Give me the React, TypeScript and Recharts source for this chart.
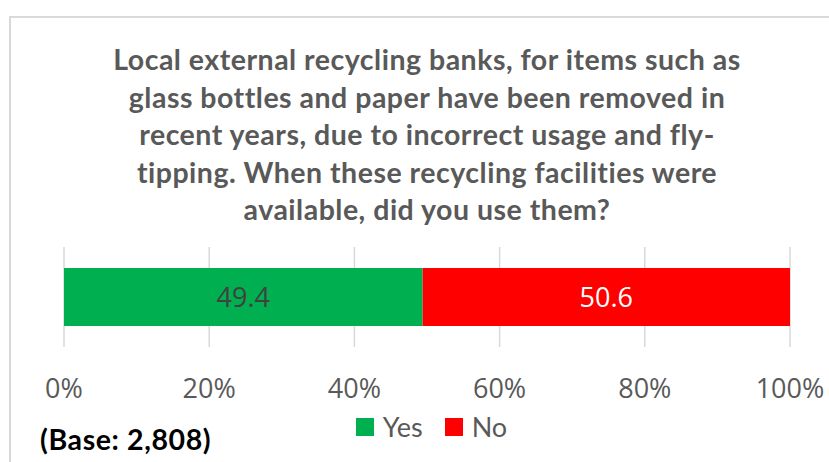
import { BarChart, Bar, XAxis, YAxis, CartesianGrid, LabelList } from "recharts";

const categories = ["Used recycling banks"];
const yesValues = [49.4];
const noValues = [50.6];
const xTicks = [0, 20, 40, 60, 80, 100];
const titleLines = [
  "Local external recycling banks, for items such as",
  "glass bottles and paper have been removed in",
  "recent years, due to incorrect usage and fly-",
  "tipping. When these recycling facilities were",
  "available, did you use them?",
];
const baseNote = "(Base: 2,808)";
const series = [
  { key: "Yes", color: "#00B050", labelColor: "#404040" },
  { key: "No", color: "#FF0000", labelColor: "#ffffff" },
];

const data = categories.map((name, i) => ({ name, Yes: yesValues[i], No: noValues[i] }));

const GREY = "#595959";
const NARROW = "Lato, 'Liberation Sans', sans-serif";
const OPEN = "'Open Sans', 'Noto Sans', sans-serif";

const PercentTick = (props: any) => {
  const { x, y, payload } = props;
  return (
    <text x={x} y={y + 32} textAnchor="middle" dominantBaseline="central" fill={GREY} fontSize={27} fontFamily={OPEN}>
      {`${payload.value}%`}
    </text>
  );
};

export default function App() {
  return (
    <div style={{ position: "absolute", left: 0, top: 0, width: 829, height: 462, background: "#fff", overflow: "hidden" }}>
      <div style={{ position: "absolute", left: 9, top: 16, width: 840, height: 480, border: "2px solid #d9d9d9", boxSizing: "border-box" }} />
      <div style={{ position: "absolute", left: 0, top: 41, width: 854, textAlign: "center", fontFamily: NARROW, fontWeight: 700, fontSize: 28.5, letterSpacing: 0.5, color: GREY, lineHeight: "37.5px" }}>
        {titleLines.map((l) => (
          <div key={l}>{l}</div>
        ))}
      </div>
      <div style={{ position: "absolute", left: 0, top: 0 }}>
        <BarChart width={829} height={462} data={data} layout="vertical" margin={{ top: 247, right: 39, bottom: 0, left: 64 }} barSize={58}>
          <CartesianGrid horizontal={false} stroke="#d9d9d9" strokeWidth={1.5} />
          <XAxis type="number" domain={[0, 100]} ticks={xTicks} axisLine={false} tickLine={false} height={115} tick={<PercentTick />} interval={0} />
          <YAxis type="category" dataKey="name" hide width={0} />
          {series.map((s) => (
            <Bar key={s.key} dataKey={s.key} stackId="a" fill={s.color} isAnimationActive={false}>
              <LabelList dataKey={s.key} position="center" fill={s.labelColor} fontSize={27} fontFamily={OPEN} />
            </Bar>
          ))}
        </BarChart>
      </div>
      <div style={{ position: "absolute", left: 0, top: 412, width: 829, display: "flex", justifyContent: "center", alignItems: "center", gap: 22, paddingLeft: 34, boxSizing: "border-box" }}>
        {series.map((s) => (
          <div key={s.key} style={{ display: "flex", alignItems: "center", gap: 9 }}>
            <span style={{ width: 18, height: 18, background: s.color, display: "inline-block" }} />
            <span style={{ fontFamily: NARROW, fontSize: 27, color: GREY, lineHeight: "30px" }}>{s.key}</span>
          </div>
        ))}
      </div>
      <div style={{ position: "absolute", left: 40, top: 422, fontFamily: NARROW, fontWeight: 700, fontSize: 28.5, letterSpacing: 0.6, color: "#000", lineHeight: "34px" }}>
        {baseNote}
      </div>
    </div>
  );
}
